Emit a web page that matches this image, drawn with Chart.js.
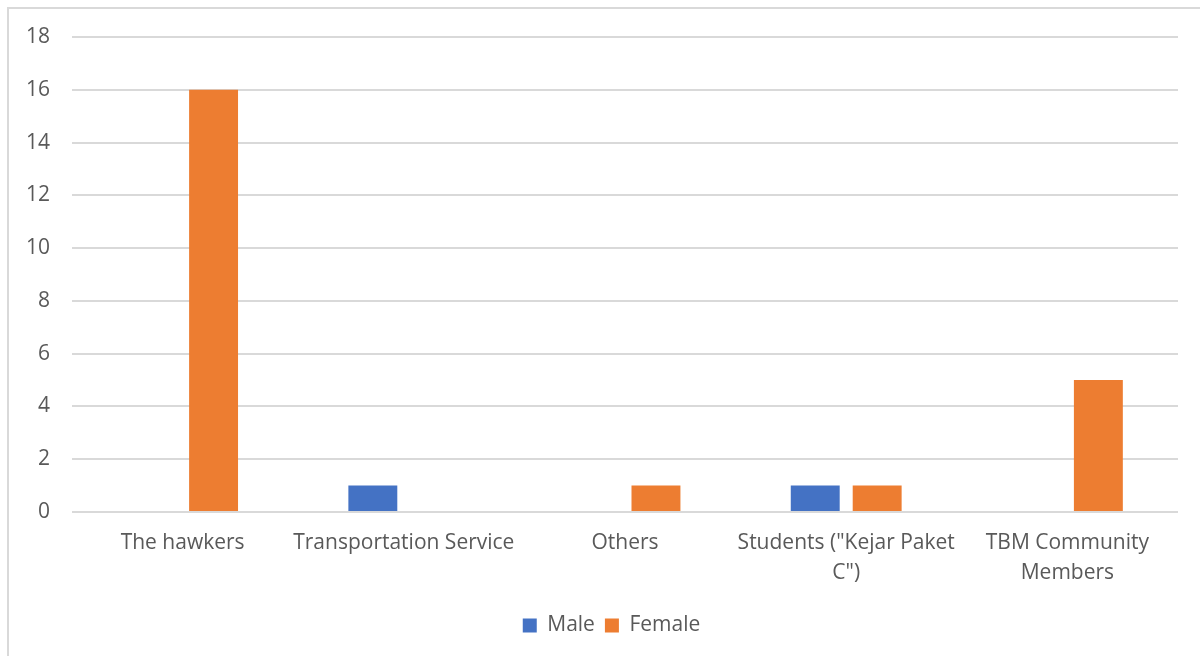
<!DOCTYPE html>
<html>
<head>
<meta charset="utf-8">
<script src="https://cdn.jsdelivr.net/npm/chart.js@4"></script>
<style>
  html, body { margin: 0; padding: 0; background: #fff; }
  #wrap { position: relative; width: 1200px; height: 656px; overflow: hidden; }
  #frame { position: absolute; left: 7px; top: 7px; width: 1300px; height: 700px;
           border-left: 2px solid #d9d9d9; border-top: 2px solid #d9d9d9; }
  canvas { position: absolute; left: 0; top: 0; }
</style>
</head>
<body>
<div id="wrap">
  <div id="frame"></div>
  <canvas id="genderChart" width="1200" height="656"></canvas>
</div>
<script>
const categories = [
    "The hawkers",
    "Transportation Service",
    "Others",
    ["Students (\"Kejar Paket", "C\")"],
    ["TBM Community", "Members"]
];
const maleValues = [0, 1, 0, 1, 0];
const femaleValues = [16, 0, 1, 1, 5];

const textColor = "#595959";
const fontFamily = "'Open Sans', 'Liberation Sans', sans-serif";

const ctx = document.getElementById("genderChart");

new Chart(ctx, {
    type: "bar",
    data: {
        labels: categories,
        datasets: [
            {
                label: "Male",
                data: maleValues,
                backgroundColor: "#4472C4",
                barPercentage: 0.79,
                categoryPercentage: 0.56
            },
            {
                label: "Female",
                data: femaleValues,
                backgroundColor: "#ED7D31",
                barPercentage: 0.79,
                categoryPercentage: 0.56
            }
        ]
    },
    options: {
        responsive: false,
        animation: false,
        layout: {
            padding: { left: 23, right: 0, top: 37, bottom: 10 }
        },
        plugins: {
            legend: {
                position: "bottom",
                labels: {
                    boxWidth: 14,
                    boxHeight: 14,
                    padding: 10,
                    color: textColor,
                    font: { family: fontFamily, size: 21 }
                }
            },
            tooltip: { enabled: false }
        },
        scales: {
            x: {
                grid: { display: false, drawTicks: false },
                border: { display: false },
                ticks: {
                    color: textColor,
                    padding: 16,
                    maxRotation: 0,
                    autoSkip: false,
                    font: { family: fontFamily, size: 21, lineHeight: 1.43 }
                },
                afterFit: (scale) => { scale.height = 93; }
            },
            y: {
                min: 0,
                max: 18,
                ticks: {
                    stepSize: 2,
                    color: textColor,
                    padding: 22,
                    font: { family: fontFamily, size: 21 }
                },
                grid: { color: "#d9d9d9", lineWidth: 2, drawTicks: false },
                border: { display: false },
                afterFit: (scale) => { scale.width = 49; }
            },
            // empty spacer on the right so the legend centres like Excel's
            spacer: {
                type: "linear",
                position: "right",
                grid: { display: false, drawTicks: false },
                border: { display: false },
                ticks: { display: false },
                afterFit: (scale) => { scale.width = 22; }
            }
        }
    }
});
</script>
</body>
</html>
